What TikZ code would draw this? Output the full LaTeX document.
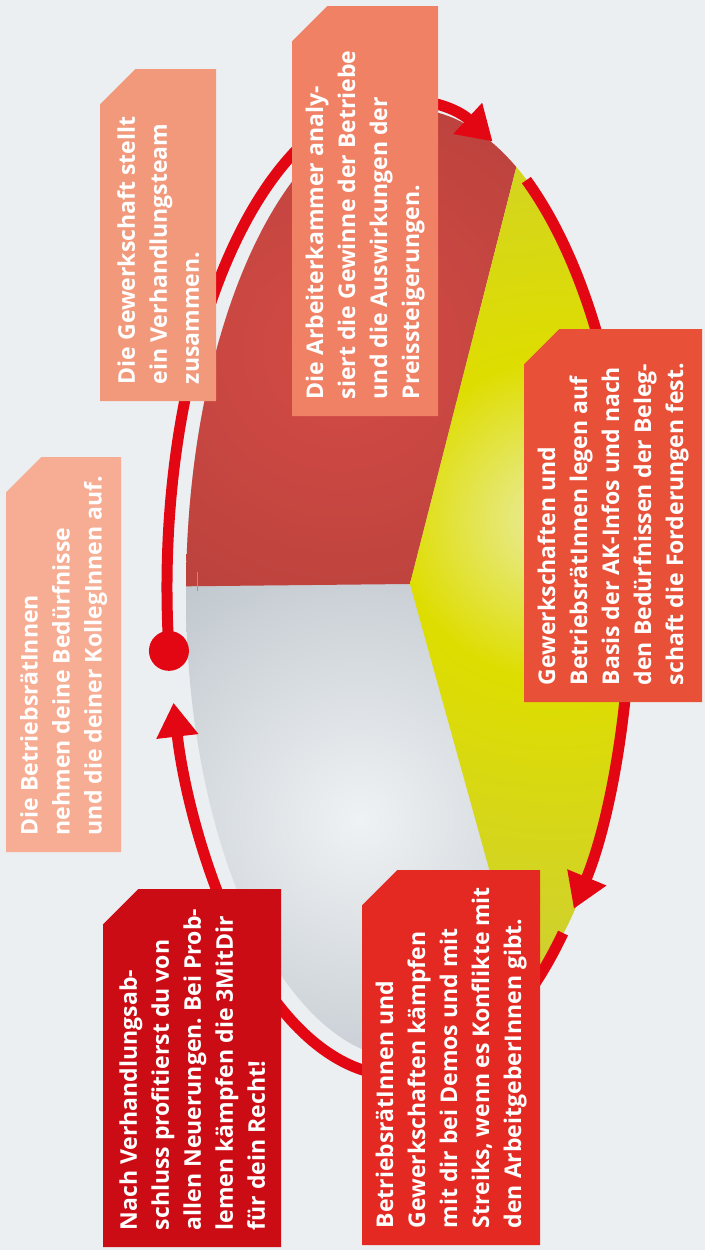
\documentclass[tikz,border=0pt]{standalone}
\usepackage{fontspec}
\setmainfont{Open Sans}
\usepackage{graphicx}
\usetikzlibrary{arrows.meta}
\frenchspacing

\definecolor{bgcol}{HTML}{ECEFF1}
\definecolor{ringred}{HTML}{E30613}
\definecolor{redL}{HTML}{D44B45}
\definecolor{redD}{HTML}{A63A36}
\definecolor{yelL}{HTML}{EAECA4}
\definecolor{yelM}{HTML}{DEDD00}
\definecolor{yelD}{HTML}{CDCF35}
\definecolor{grayL}{HTML}{EFF2F4}
\definecolor{grayD}{HTML}{B6BEC5}
\definecolor{boxA}{HTML}{F2997B}
\definecolor{boxB}{HTML}{F08165}
\definecolor{boxC}{HTML}{E85038}
\definecolor{boxD}{HTML}{F7AD94}
\definecolor{boxE}{HTML}{CC0C15}
\definecolor{boxF}{HTML}{E32922}

\pgfdeclareradialshading{redball}{\pgfpoint{0bp}{0bp}}{color(0bp)=(redL); color(22bp)=(redD); color(50bp)=(redD)}
\pgfdeclareradialshading{yelball}{\pgfpoint{0bp}{0bp}}{color(0bp)=(yelL); color(8bp)=(yelM); color(24bp)=(yelD); color(50bp)=(yelD)}
\pgfdeclareradialshading{grayball}{\pgfpoint{0bp}{0bp}}{color(0bp)=(grayL); color(18bp)=(grayD); color(50bp)=(grayD)}

\newcommand{\vtext}[2]{\rotatebox{90}{\parbox[c]{#1}{\raggedright\fontsize{23}{32}\selectfont\bfseries #2}}}

\tikzset{
  box/.style={rectangle, inner sep=0pt, anchor=north west, text=white,
    path picture={\fill[#1] ([xshift=35pt]path picture bounding box.north west) -- (path picture bounding box.north east) -- (path picture bounding box.south east) -- (path picture bounding box.south west) -- ([yshift=-35pt]path picture bounding box.north west) -- cycle;}},
  ring/.style={draw=ringred, line width=11pt},
  ringtip/.style={ring, -{Triangle[width=40pt,length=34pt]}}
}

\begin{document}
\begin{tikzpicture}[x=1pt,y=1pt]
            \useasboundingbox (0,0) rectangle (705,1250);
            \fill[bgcol] (0,0) rectangle (705,1250);
            \coordinate (pc) at (410,666);
            \coordinate (ec) at (410,656);
            \coordinate (rc) at (399,662);
            \begin{scope}
                \clip (ec) ++(-224,0) arc[start angle=180, end angle=0, x radius=224, y radius=485] arc[start angle=0, end angle=-180, x radius=224, y radius=466] -- cycle;
                \shade[shading=grayball] (360,430) circle (500);
                \begin{scope}
                    \clip (pc) -- (120,663) -- (120,1250) -- (559,1250) -- cycle;
                    \shade[shading=redball] (340,900) circle (600);
                \end{scope}
                \begin{scope}
                    \clip (pc) -- (559,1250) -- (705,1250) -- (705,100) -- (567,100) -- cycle;
                    \shade[shading=yelball] (555,730) circle (500);
                \end{scope}
            \end{scope}
            \draw[gray!80, line width=0.8pt] (197,678) -- (197,659);
            \path (rc) ++(187.4:232 and 488) coordinate (start);
            \draw[ringtip] (rc) ++(187.4:232 and 488) arc[start angle=187.4, end angle=66.2, x radius=232, y radius=488];
            \draw[ringtip] (rc) ++(56.7:232 and 488) arc[start angle=56.7, end angle=-41.1, x radius=232, y radius=488];
            \draw[ringtip] (rc) ++(-45:232 and 488) arc[start angle=-45, end angle=-166.4, x radius=232, y radius=488];
            \fill[ringred] (start) circle (20);
            \node[box=boxA, minimum width=116pt, minimum height=332pt] (stellt) at (100,1181) {\vtext{298pt}{Die Gewerkschaft stellt\\ein Verhandlungsteam\\zusammen.}};
            \node[box=boxB, minimum width=146pt, minimum height=410pt] (analyse) at (292,1244) {\vtext{376pt}{Die Arbeiterkammer analy-\\siert die Gewinne der Betriebe\\und die Auswirkungen der\\Preissteigerungen.}};
            \node[box=boxC, minimum width=178pt, minimum height=373pt] (forderung) at (524,921) {\vtext{339pt}{Gewerkschaften und\\BetriebsrätInnen legen auf\\Basis der AK-Infos und nach\\den Bedürfnissen der Beleg-\\schaft die Forderungen fest.}};
            \node[box=boxD, minimum width=115pt, minimum height=395pt] (beduerfnis) at (6,793) {\vtext{361pt}{Die BetriebsrätInnen\\nehmen deine Bedürfnisse\\und die deiner KollegInnen auf.}};
            \node[box=boxE, minimum width=178pt, minimum height=358pt] (profit) at (103,361) {\vtext{324pt}{Nach Verhandlungsab-\\schluss profitierst du von\\allen Neuerungen. Bei Prob-\\lemen kämpfen die 3MitDir\\für dein Recht!}};
            \node[box=boxF, minimum width=178pt, minimum height=375pt] (kaempfen) at (362,380) {\vtext{341pt}{BetriebsrätInnen und\\Gewerkschaften kämpfen\\mit dir bei Demos und mit\\Streiks, wenn es Konflikte mit\\den ArbeitgeberInnen gibt.}};
        \end{tikzpicture}
\end{document}
